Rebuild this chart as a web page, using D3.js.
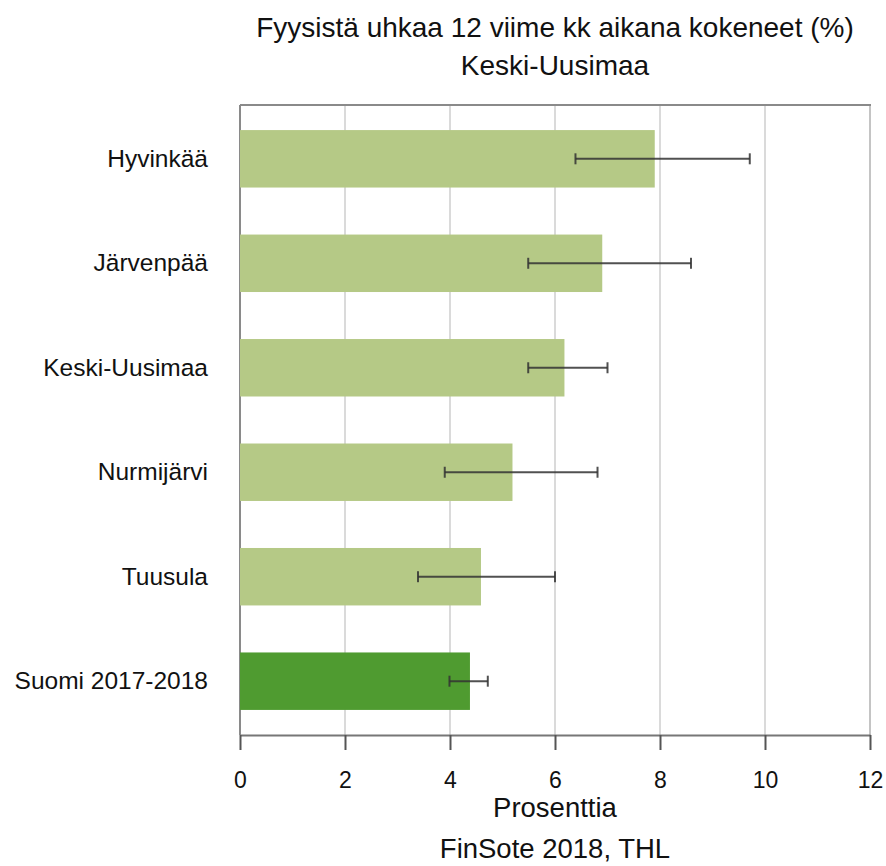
<!DOCTYPE html>
<html><head><meta charset="utf-8">
<script src="https://cdn.jsdelivr.net/npm/d3@7"></script>
<style>body{margin:0;background:#fff;} text{font-family:"Liberation Sans",Arial,sans-serif;fill:#111;}</style>
</head><body>
<svg id="c" width="886" height="866"></svg>
<script>
const categories = ["Hyvinkää","Järvenpää","Keski-Uusimaa","Nurmijärvi","Tuusula","Suomi 2017-2018"];
const values = [7.9, 6.9, 6.18, 5.19, 4.59, 4.38];
const lower = [6.39, 5.49, 5.49, 3.9, 3.39, 3.99];
const upper = [9.71, 8.59, 7.0, 6.81, 6.0, 4.72];
const xTicks = [0,2,4,6,8,10,12];
const colors = ["#b5c986","#b5c986","#b5c986","#b5c986","#b5c986","#4f9b30"];

const svg = d3.select("#c");
const m = {l:240, r:870, t:105, b:735};
const x = d3.scaleLinear().domain([0,12]).range([m.l, m.r]);
const y = d3.scaleBand().domain(categories).range([m.t, m.b]).paddingInner(0.45).paddingOuter(0.24);

// grid
svg.append("g").selectAll("line").data(xTicks.slice(1)).join("line")
  .attr("x1", d=>x(d)).attr("x2", d=>x(d)).attr("y1", m.t).attr("y2", m.b)
  .attr("stroke", d=>d===12?"#c4c4c4":"#dadada").attr("stroke-width", 2);
// frame top/left
svg.append("line").attr("x1", m.l).attr("x2", m.r+1).attr("y1", m.t).attr("y2", m.t).attr("stroke","#8a8a8a").attr("stroke-width",2);
svg.append("line").attr("x1", m.l).attr("x2", m.l).attr("y1", m.t).attr("y2", m.b).attr("stroke","#8a8a8a").attr("stroke-width",2);

// bars
svg.append("g").selectAll("rect").data(categories).join("rect")
  .attr("x", x(0)).attr("y", d=>y(d)).attr("width", (d,i)=>x(values[i])-x(0)).attr("height", y.bandwidth())
  .attr("fill", (d,i)=>colors[i]);

// error bars
const eb = svg.append("g").attr("stroke","#333").attr("stroke-opacity",0.85);
categories.forEach((c,i)=>{
  const cy = y(c)+y.bandwidth()/2;
  eb.append("line").attr("x1", x(lower[i])).attr("x2", x(upper[i])).attr("y1", cy).attr("y2", cy).attr("stroke-width", 2);
  [lower[i], upper[i]].forEach(v=>eb.append("line").attr("x1", x(v)).attr("x2", x(v)).attr("y1", cy-5.5).attr("y2", cy+5.5).attr("stroke-width", 2));
});

// x axis
const xa = svg.append("g").attr("transform", `translate(0,${m.b})`)
  .call(d3.axisBottom(x).tickValues(xTicks).tickSize(15).tickPadding(22).tickSizeOuter(0));
xa.select(".domain").attr("stroke","#777").attr("stroke-width",2);
xa.selectAll(".tick line").attr("stroke","#555").attr("stroke-width",2);
xa.selectAll(".tick text").style("font-size", "23px").attr("font-family","Liberation Sans, Arial, sans-serif").attr("fill","#111");

// y labels
svg.append("g").selectAll("text").data(categories).join("text")
  .attr("x", 208).attr("y", d=>y(d)+y.bandwidth()/2).attr("dy","0.33em")
  .attr("text-anchor","end").attr("font-size", 24.5).text(d=>d);

// titles
const cx = (m.l+m.r)/2;
svg.append("text").attr("x", cx).attr("y", 37).attr("text-anchor","middle").attr("font-size",28).text("Fyysistä uhkaa 12 viime kk aikana kokeneet (%)");
svg.append("text").attr("x", cx).attr("y", 75).attr("text-anchor","middle").attr("font-size",28).text("Keski-Uusimaa");
svg.append("text").attr("x", cx).attr("y", 817).attr("text-anchor","middle").attr("font-size",27.5).text("Prosenttia");
svg.append("text").attr("x", cx).attr("y", 858).attr("text-anchor","middle").attr("font-size",27.5).text("FinSote 2018, THL");
</script>
</body></html>
